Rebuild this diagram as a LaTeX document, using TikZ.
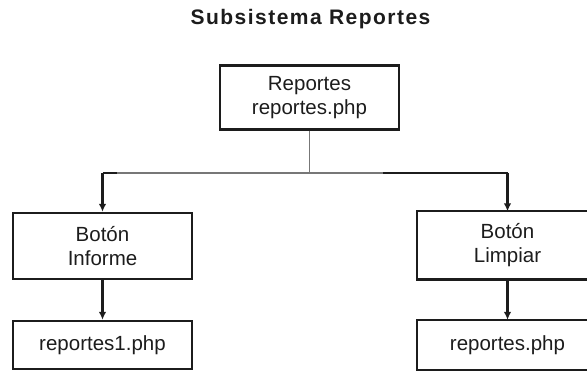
\documentclass[tikz,border=0pt]{standalone}
\usepackage{fontspec}
\setmainfont{Liberation Sans}
\usetikzlibrary{arrows.meta}
\definecolor{ink}{HTML}{1C1C1C}
\definecolor{wire}{HTML}{777777}
\tikzset{
  box/.style={draw=ink, line width=2.2pt, minimum width=179pt, inner sep=0pt,
    align=center, text=ink, font=\fontsize{20.5}{24}\selectfont},
  openbox/.style={box, draw=none},
  rim/.style={draw=ink, line width=2.2pt},
  link/.style={draw=wire, line width=1.5pt},
  heavy/.style={draw=ink, line width=2.1pt},
  flow/.style={heavy, -{Latex[length=8pt,width=7.5pt]}}
}
\begin{document}
\begin{tikzpicture}[x=1pt,y=-1pt]
  \useasboundingbox (0,0) rectangle (587,371);
  \clip (0,0) rectangle (587,371);
  \node[text=ink, font=\fontsize{21}{24}\bfseries\addfontfeature{LetterSpace=7}] (title) at (310.5,19) {Subsistema Reportes};

  \node[box, minimum height=64pt] (top) at (309.5,97.5) {Reportes\\reportes.php};
  \node[box, minimum height=66pt] (binf) at (102.5,246) {Botón\\Informe};
  \node[box, minimum height=48pt] (rl) at (102.5,345) {reportes1.php};

  % right column: its right side lies past the page edge
  \node[openbox, minimum height=66pt] (blim) at (507.5,245.5) {Botón\\Limpiar};
  \node[openbox, minimum height=48pt] (rr) at (507.5,345) {reportes.php};
  \draw[rim] (blim.north east) -- (blim.north west) -- (blim.south west) -- (blim.south east);
  \draw[rim] (rr.north east) -- (rr.north west) -- (rr.south west) -- (rr.south east);

  % branching bus under the main page
  \coordinate (jm) at (309.5,173);
  \coordinate (jl) at (102.5,173);
  \coordinate (jr) at (507.5,173);
  \coordinate (jlx) at (117,173);
  \coordinate (jrx) at (383,173);
  \draw[link] (top.south) -- (jm);
  \draw[link] (jl) -- (jr);
  \draw[heavy] (jlx) -- (jl);
  \draw[heavy] (jrx) -- (jr);

  \draw[flow] (jl) -- (binf.north);
  \draw[flow] (jr) -- (blim.north);
  \draw[flow] (binf.south) -- (rl.north);
  \draw[flow] (blim.south) -- (rr.north);
\end{tikzpicture}
\end{document}
